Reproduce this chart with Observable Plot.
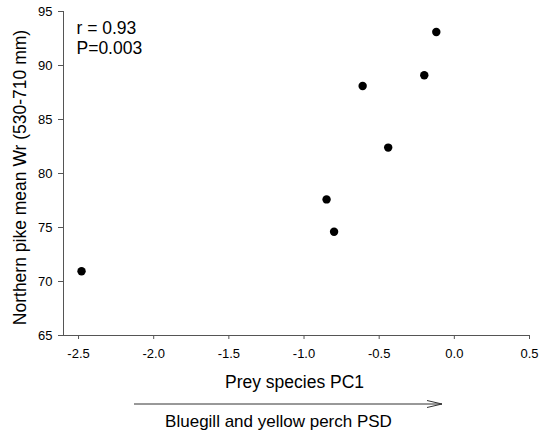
<!DOCTYPE html>
<html>
<head>
<meta charset="utf-8">
<script src="https://cdn.jsdelivr.net/npm/d3@7"></script>
<script src="https://cdn.jsdelivr.net/npm/@observablehq/plot@0.6"></script>
<style>
  html, body { margin: 0; padding: 0; background: #fff; }
  svg { display: block; }
</style>
</head>
<body>
<div id="chart"></div>
<script>
// Data
const preyPC1 = [-2.48, -0.85, -0.80, -0.61, -0.44, -0.20, -0.12];
const pikeWr  = [70.95, 77.6, 74.6, 88.1, 82.4, 89.1, 93.1];
const xTicks = [-2.5, -2.0, -1.5, -1.0, -0.5, 0.0, 0.5];
const yTicks = [65, 70, 75, 80, 85, 90, 95];
const statsText = ["r = 0.93", "P=0.003"];
const xTitle = "Prey species PC1";
const yTitle = "Northern pike mean Wr (530-710 mm)";
const arrowTitle = "Bluegill and yellow perch PSD";

const data = preyPC1.map((x, i) => ({x, y: pikeWr[i]}));
const font = "Arial, 'Liberation Sans', Helvetica, sans-serif";
const axisColor = "#555";

const plot = Plot.plot({
  width: 548,
  height: 431,
  marginLeft: 63,
  marginRight: 19,
  marginTop: 11,
  marginBottom: 96,
  style: {fontFamily: font, fontSize: "13px", color: "#000", background: "#fff", overflow: "visible"},
  x: {domain: [-2.6, 0.5], label: null},
  y: {domain: [65, 95], label: null},
  marks: [
    Plot.axisX({ticks: xTicks, tickFormat: d => d.toFixed(1), tickSize: 4, tickPadding: 9, label: null, stroke: axisColor, fontSize: 13}),
    Plot.axisY({ticks: yTicks, tickFormat: d => String(d), tickSize: 5, tickPadding: 6, label: null, stroke: axisColor, fontSize: 13}),
    Plot.frame({anchor: "left", stroke: axisColor}),
    Plot.frame({anchor: "bottom", stroke: axisColor}),
    Plot.dot(data, {x: "x", y: "y", r: 4.2, fill: "black", stroke: null}),
    Plot.text([statsText.join("\n")], {frameAnchor: "top-left", lineAnchor: "top", dx: 13, dy: 8, fontSize: 17.5, lineHeight: 1.15, textAnchor: "start", fill: "black"}),
    Plot.text([xTitle], {frameAnchor: "bottom", lineAnchor: "middle", dx: -2, dy: 47, fontSize: 17.5, fill: "black"}),
    Plot.text([arrowTitle], {frameAnchor: "bottom", lineAnchor: "middle", dx: -18, dy: 86, fontSize: 17, fill: "black"}),
    Plot.text([yTitle], {frameAnchor: "left", textAnchor: "middle", lineAnchor: "middle", rotate: -90, dx: -43, dy: 4, fontSize: 17.5, fill: "black"})
  ]
});

// Decorative arrow under the x-axis title
const svg = d3.select(plot);
const ay = 404, ax1 = 134, ax2 = 442;
svg.append("line").attr("x1", ax1).attr("x2", ax2).attr("y1", ay).attr("y2", ay)
  .attr("stroke", "#333").attr("stroke-width", 1);
svg.append("path").attr("d", `M${ax2 - 15},${ay - 3.5}L${ax2},${ay}L${ax2 - 15},${ay + 3.5}`)
  .attr("fill", "none").attr("stroke", "#333").attr("stroke-width", 1);

document.getElementById("chart").append(plot);
</script>
</body>
</html>
